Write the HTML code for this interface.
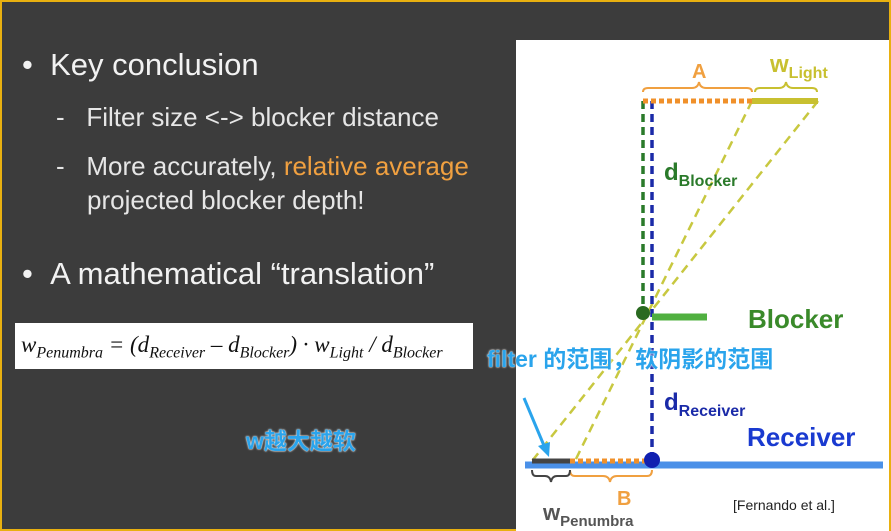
<!DOCTYPE html>
<html><head><meta charset="utf-8"><style>
body{margin:0;width:891px;height:531px;overflow:hidden;background:#3c3c3c;font-family:"Liberation Sans","Noto Sans CJK SC",sans-serif;position:relative}
.t{position:absolute;white-space:nowrap;color:#f2f2f2}
.cn{position:absolute;white-space:nowrap;color:#2aa4ec;font-weight:bold;font-size:23px;text-shadow:0 0 2px #fff,0 0 1px #fff;font-family:"Liberation Sans","Noto Sans CJK SC",sans-serif}
</style></head><body>
<div style="position:absolute;left:0;top:0;width:887px;height:527px;border:2px solid #e8b010"></div>
<div class="t" style="left:22px;top:47px;font-size:31px">•&nbsp;&nbsp;Key conclusion</div>
<div class="t" style="left:56px;top:102px;font-size:26px;color:#e6e6e6">-&nbsp;&nbsp;&nbsp;Filter size &lt;-&gt; blocker distance</div>
<div class="t" style="left:56px;top:151px;font-size:26px;color:#e6e6e6">-&nbsp;&nbsp;&nbsp;More accurately, <span style="color:#f0a040">relative average</span></div>
<div class="t" style="left:87px;top:185px;font-size:26px;color:#e6e6e6">projected blocker depth!</div>
<div class="t" style="left:22px;top:256px;font-size:31px">•&nbsp;&nbsp;A mathematical “translation”</div>
<div style="position:absolute;left:15px;top:323px;width:458px;height:46px;background:#fff;font-family:'Liberation Serif',serif;font-style:italic;font-size:23px;color:#111;line-height:44px;padding-left:6px;box-sizing:border-box;white-space:nowrap;overflow:hidden">w<sub style="font-size:16px">Penumbra</sub> = (d<sub style="font-size:16px">Receiver</sub> – d<sub style="font-size:16px">Blocker</sub>) · w<sub style="font-size:16px">Light</sub> / d<sub style="font-size:16px">Blocker</sub></div>
<div class="cn" style="left:246px;top:422px">w越大越软</div>
<div style="position:absolute;left:516px;top:40px;width:373px;height:491px;background:#fff"></div>
<svg style="position:absolute;left:0;top:0" width="891" height="531">
<g fill="none" stroke="#c8c840" stroke-width="2.5" stroke-dasharray="9,6">
<line x1="752" y1="101" x2="575" y2="461"/><line x1="818" y1="101" x2="532" y2="461"/></g>
<line x1="643" y1="101" x2="643" y2="313" stroke="#2a7a2a" stroke-width="3.5" stroke-dasharray="8,5"/>
<line x1="652" y1="101" x2="652" y2="461" stroke="#1a2aa8" stroke-width="3.5" stroke-dasharray="8,5"/>
<line x1="643" y1="101" x2="752" y2="101" stroke="#f0902a" stroke-width="5" stroke-dasharray="5,3"/>
<line x1="752" y1="101" x2="818" y2="101" stroke="#c8c030" stroke-width="6"/>
<path d="M643 92 q0 -4 5 -4 h44 q6 0 7 -6 q1 6 7 6 h41 q5 0 5 4" fill="none" stroke="#f0a040" stroke-width="2"/>
<path d="M755 92 q0 -4 5 -4 h19 q6 0 7 -6 q1 6 7 6 h19 q5 0 5 4" fill="none" stroke="#c8c030" stroke-width="2"/>
<text x="692" y="78" font-size="20" font-weight="bold" fill="#f0a040" font-family="Liberation Sans">A</text>
<text x="770" y="72" font-size="24" font-weight="bold" fill="#c8c030" font-family="Liberation Sans">w<tspan font-size="16" dy="6">Light</tspan></text>
<text x="664" y="180" font-size="24" font-weight="bold" fill="#2a7a2a" font-family="Liberation Sans">d<tspan font-size="16" dy="6">Blocker</tspan></text>
<line x1="652" y1="317" x2="707" y2="317" stroke="#50b040" stroke-width="7"/>
<circle cx="643" cy="313" r="7" fill="#2a6a20"/>
<text x="748" y="328" font-size="26" font-weight="bold" fill="#3a8a2a" font-family="Liberation Sans">Blocker</text>
<text x="664" y="410" font-size="24" font-weight="bold" fill="#1a2aa8" font-family="Liberation Sans">d<tspan font-size="16" dy="6">Receiver</tspan></text>
<text x="747" y="446" font-size="26" font-weight="bold" fill="#1a3ad0" font-family="Liberation Sans">Receiver</text>
<line x1="525" y1="465" x2="883" y2="465" stroke="#4a90e8" stroke-width="7"/>
<line x1="532" y1="461" x2="570" y2="461" stroke="#444" stroke-width="5"/>
<line x1="570" y1="461" x2="648" y2="461" stroke="#f0902a" stroke-width="5" stroke-dasharray="5,3"/>
<circle cx="652" cy="460" r="8" fill="#1020b0"/>
<path d="M570 470 q0 6 5 6 h28 q6 0 7 6 q1 -6 7 -6 h30 q5 0 5 -6" fill="none" stroke="#f0a040" stroke-width="2"/>
<path d="M532 470 q0 6 4 6 h9 q5 0 6 6 q1 -6 6 -6 h9 q4 0 4 -6" fill="none" stroke="#444" stroke-width="2"/>
<text x="617" y="505" font-size="20" font-weight="bold" fill="#f0a040" font-family="Liberation Sans">B</text>
<text x="543" y="520" font-size="22" font-weight="bold" fill="#555" font-family="Liberation Sans">w<tspan font-size="15" dy="6">Penumbra</tspan></text>
<text x="733" y="510" font-size="14" fill="#222" font-family="Liberation Sans">[Fernando et al.]</text>
<line x1="524" y1="398" x2="545" y2="448" stroke="#2aa4ec" stroke-width="3"/>
<polygon points="549,457 538,446 550,442" fill="#2aa4ec"/>
</svg>
<div class="cn" style="left:487px;top:340px">filter 的范围，软阴影的范围</div>
</body></html>
